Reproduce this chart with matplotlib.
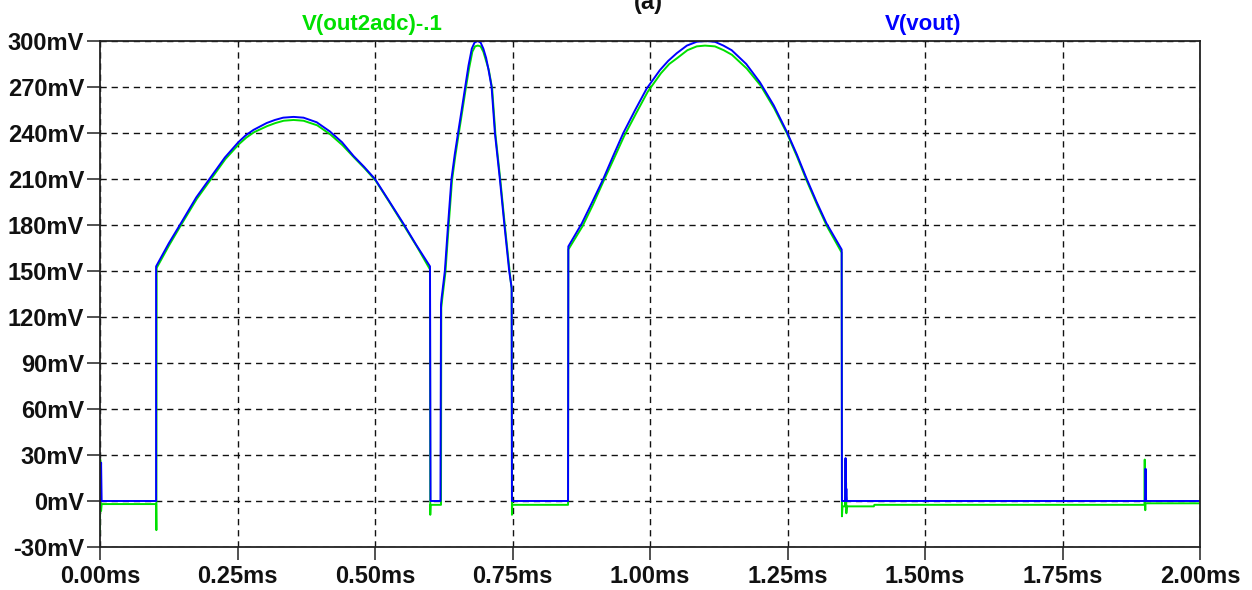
import numpy as np
import matplotlib.pyplot as plt
from matplotlib.ticker import FuncFormatter

# V(vout) trace: time in ms, voltage in mV
t_vout = [0.000, 0.002, 0.003, 0.102, 0.102, 0.125, 0.1485, 0.175, 0.203, 0.227,
          0.2515, 0.265, 0.279, 0.303, 0.318, 0.333, 0.352, 0.370, 0.394, 0.418,
          0.440, 0.461, 0.480, 0.500, 0.525, 0.5515, 0.575, 0.600, 0.601, 0.619,
          0.620, 0.621, 0.627, 0.633, 0.639, 0.645, 0.651, 0.658, 0.664, 0.670,
          0.676, 0.681, 0.687, 0.692, 0.697, 0.702, 0.706, 0.712, 0.718, 0.727,
          0.735, 0.744, 0.7485, 0.749, 0.851, 0.8515, 0.876, 0.895, 0.915, 0.933,
          0.9515, 0.973, 0.994, 1.018, 1.033, 1.0485, 1.067, 1.085, 1.100, 1.118,
          1.1335, 1.1485, 1.175, 1.200, 1.225, 1.2485, 1.267, 1.285, 1.303, 1.321,
          1.3485, 1.349, 1.355, 1.3555, 1.356, 1.357, 1.358, 1.900, 1.901, 1.902,
          2.000]
v_vout = [0, 25, 0, 0, 153, 168, 182, 198, 212, 224,
          234, 238.5, 242, 246.5, 248.5, 250, 250.5, 250, 247, 241,
          234, 225, 218, 210, 196, 181, 167, 153, 0, 0,
          128, 132, 150, 181, 210, 226, 240, 256, 270, 284,
          295, 299, 300, 299, 295, 289, 282, 270, 240, 210,
          181, 150, 139, 0, 0, 166, 181, 195, 210, 225,
          240, 255, 269, 281, 287, 292, 297, 299.5, 300, 299.5,
          297, 294, 285, 273, 258, 241, 226, 210, 195, 181,
          164, 0, 0, 28, 0, 8, 0, 0, 21, 0,
          0]

# V(out2adc)-.1 trace
t_adc = [0.000, 0.0005, 0.001, 0.002, 0.003, 0.102, 0.1025, 0.103, 0.126, 0.149,
         0.176, 0.204, 0.228, 0.252, 0.266, 0.280, 0.304, 0.319, 0.334, 0.352,
         0.370, 0.395, 0.419, 0.441, 0.462, 0.481, 0.501, 0.526, 0.552, 0.576,
         0.600, 0.6005, 0.601, 0.620, 0.6205, 0.622, 0.628, 0.634, 0.640, 0.646,
         0.652, 0.659, 0.665, 0.671, 0.677, 0.682, 0.687, 0.692, 0.697, 0.702,
         0.707, 0.713, 0.719, 0.728, 0.736, 0.745, 0.7485, 0.749, 0.7495, 0.851,
         0.8515, 0.877, 0.896, 0.916, 0.934, 0.953, 0.975, 0.996, 1.020, 1.035,
         1.050, 1.068, 1.085, 1.100, 1.118, 1.134, 1.149, 1.176, 1.201, 1.226,
         1.250, 1.268, 1.286, 1.304, 1.322, 1.3485, 1.349, 1.350, 1.355, 1.3555,
         1.356, 1.3565, 1.357, 1.358, 1.407, 1.408, 1.899, 1.8995, 1.900, 1.9005,
         1.901, 2.000]
v_adc = [-21, 27, -2, -6.5, -2, -2, -19, 152, 167, 181,
         197, 211, 223, 232.5, 237, 240.5, 244.5, 246.5, 248, 248.5,
         248, 245, 239, 232, 224, 217, 209, 195, 180, 166,
         151, -9, -2.5, -2.5, 126, 131, 149, 180, 209, 225,
         239, 255, 269, 282, 293, 296.5, 297, 296.5, 293, 287,
         281, 269, 239, 209, 180, 149, 138, -9, -2.5, -2.5,
         164, 179, 193, 209, 223, 238, 253, 267, 279, 285,
         289, 294, 296.5, 297, 296.5, 294, 291, 282, 271, 256,
         239, 224, 208, 193, 179, 162, -10, -3.5, -3.5, 27,
         -3.5, 12, -8, -3.5, -3.5, -2.5, -2.5, 27, -2.5, -6,
         -1.5, -1.5]

x_ticks = [0, 0.25, 0.5, 0.75, 1.0, 1.25, 1.5, 1.75, 2.0]
y_ticks = [-30, 0, 30, 60, 90, 120, 150, 180, 210, 240, 270, 300]

green = '#00e000'
blue = '#0000ff'
font = 'Liberation Sans'

fig = plt.figure(figsize=(12.52, 5.90), dpi=100)
ax = fig.add_axes([100/1252, 43/590, 1100/1252, 506/590])

ax.plot(t_adc, v_adc, color=green, lw=1.4, solid_joinstyle='round')
ax.plot(t_vout, v_vout, color=blue, lw=1.4, solid_joinstyle='round')

ax.set_xlim(0, 2)
ax.set_ylim(-30, 300)
ax.set_xticks(x_ticks)
ax.set_yticks(y_ticks)
ax.xaxis.set_major_formatter(FuncFormatter(lambda v, p: '%.2fms' % v))
ax.yaxis.set_major_formatter(FuncFormatter(lambda v, p: '%dmV' % v))
ax.grid(True, color='#111111', lw=1.0, linestyle=(0, (4.5, 3.5)))
ax.set_axisbelow(True)
ax.tick_params(direction='out', length=9.5, width=1.1, color='#222222', pad=2)
ax.tick_params(axis='x', pad=3.5)
for lab in ax.get_xticklabels() + ax.get_yticklabels():
    lab.set_fontfamily(font)
    lab.set_fontweight('bold')
    lab.set_fontsize(17)
    lab.set_color('#111111')
for s in ax.spines.values():
    s.set_linewidth(1.3)
    s.set_color('#222222')

# trace names above the plot
fig.text(372/1252, 1 - 30/590, 'V(out2adc)-.1', color=green, family=font,
         weight='bold', fontsize=16, ha='center', va='baseline')
fig.text(923/1252, 1 - 30/590, 'V(vout)', color=blue, family=font,
         weight='bold', fontsize=16, ha='center', va='baseline')
fig.text(648/1252, 1 - 9/590, '(a)', color='#111111', family=font,
         weight='bold', fontsize=17, ha='center', va='baseline')

fig.savefig('out.png', dpi=100)
